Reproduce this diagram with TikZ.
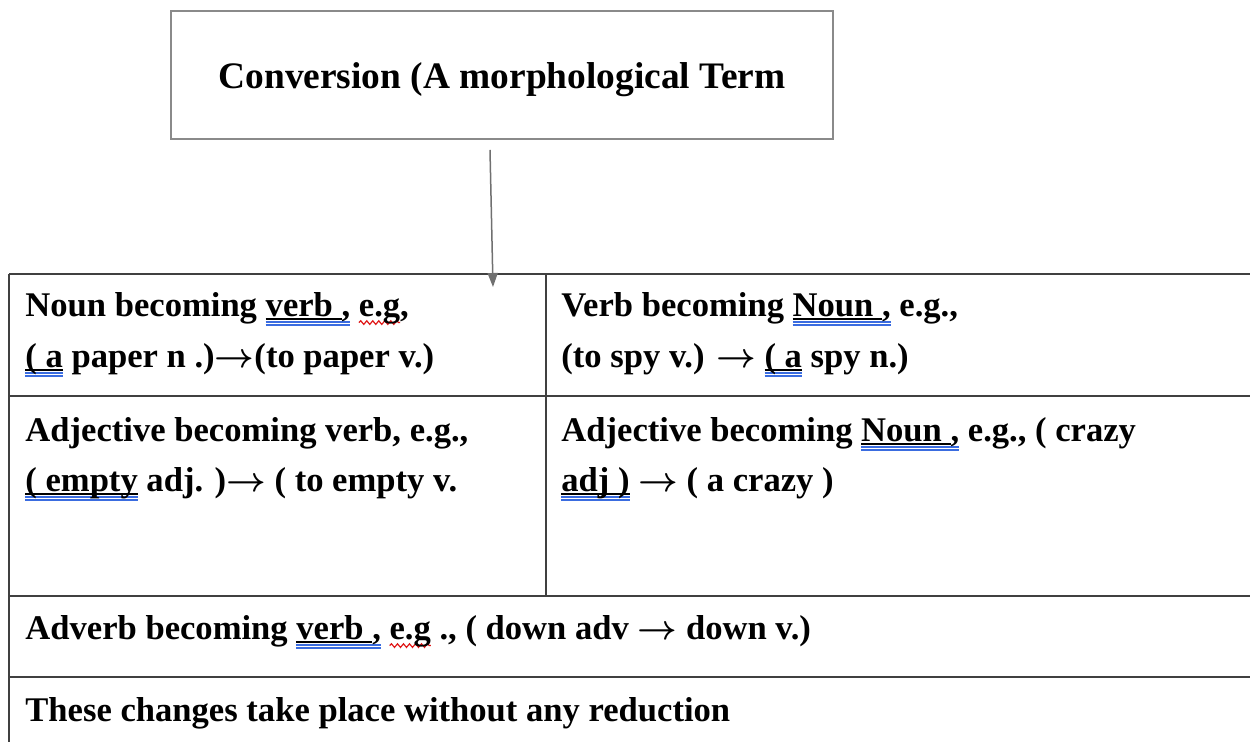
\documentclass[tikz,border=0pt]{standalone}
\usepackage{fontspec}
\setmainfont{Liberation Serif}
\usetikzlibrary{arrows.meta,decorations.pathmorphing}

\definecolor{gridline}{HTML}{404040}
\definecolor{boxline}{HTML}{8A8A8A}
\definecolor{arrowgray}{HTML}{707070}
\definecolor{gramblue}{HTML}{3A6CE0}
\definecolor{spellred}{HTML}{E01818}

% word underlined in black, with a blue double line under it and its tail
\newsavebox\ulpart
\newsavebox\ulfull
\newlength\ulw
\newcommand\gramul[2]{\sbox\ulpart{#1}\sbox\ulfull{#1#2}%
  \rlap{\rule[-1.3pt]{\wd\ulpart}{0.75pt}}%
  \rlap{\color{gramblue}\rule[-2.8pt]{\wd\ulfull}{0.6pt}}%
  \rlap{\color{gramblue}\rule[-4.3pt]{\wd\ulfull}{0.6pt}}%
  \usebox\ulfull}
% red wavy line under a word
\newcommand\spellul[1]{\sbox\ulpart{#1}\setlength\ulw{\wd\ulpart}%
  \rlap{\tikz[overlay,baseline=0pt]\draw[spellred,line width=0.6pt,decorate,
    decoration={snake,segment length=3pt,amplitude=0.9pt}] (0pt,-2.8pt) -- (\ulw,-2.8pt);}%
  \usebox\ulpart}
% arrow sign used in the examples
\newcommand\yields{\ensuremath{\rightarrow}}

\tikzset{
  cell/.style={anchor=base west, inner sep=0pt, font=\fontsize{17.3}{20}\selectfont\bfseries\boldmath},
  titletext/.style={anchor=base, inner sep=0pt, font=\fontsize{18.7}{22}\selectfont\bfseries},
  termbox/.style={draw=boxline, line width=0.75pt, minimum width=331pt, minimum height=64pt, inner sep=0pt},
  rule/.style={draw=gridline, line width=1pt},
  leadarrow/.style={draw=arrowgray, line width=0.75pt, -{Triangle[length=7pt,width=5pt]}}
}

\begin{document}
\begin{tikzpicture}[x=0.5pt,y=-0.5pt]
\useasboundingbox (0,0) rectangle (1250,742);
\clip (0,0) rectangle (1250,742);
\fill[white] (0,0) rectangle (1250,742);

% heading box
\node[termbox] (box) at (502,75) {};
\node[titletext] (title) at (502,89) {Conversion (A morphological Term};

% table rules
\draw[rule] (9,274) -- (1260,274);
\draw[rule] (9,274) -- (9,760);
\draw[rule] (546,274) -- (546,596);
\draw[rule] (9,396) -- (1260,396);
\draw[rule] (9,596) -- (1260,596);
\draw[rule] (9,677) -- (1260,677);

% arrow into the table
\coordinate (tail) at (490,150);
\coordinate (tip) at (493,287);
\draw[leadarrow] (tail) -- (tip);

% row 1
\node[cell] (nv1) at (25,317) {Noun becoming \gramul{verb }{,} \spellul{e.g},};
\node[cell] (nv2) at (25,368) {\gramul{( a}{} paper n .)\yields(to paper v.)};
\node[cell] (vn1) at (561,317) {Verb becoming \gramul{Noun }{,} e.g.,};
\node[cell] (vn2) at (561,368) {(to spy v.) \yields{} \gramul{( a}{} spy n.)};

% row 2
\node[cell] (av1) at (25,442) {Adjective becoming verb, e.g.,};
\node[cell] (av2) at (25,492) {\gramul{( empty}{} adj. )\yields{} ( to empty v.};
\node[cell] (an1) at (561,442) {Adjective becoming \gramul{Noun }{,} e.g., ( crazy};
\node[cell] (an2) at (561,492) {\gramul{adj )}{} \yields{} ( a crazy )};

% row 3
\node[cell] (adv) at (25,640) {Adverb becoming \gramul{verb }{,} \spellul{e.g} ., ( down adv \yields{} down v.)};

% row 4
\node[cell] (note) at (25,722) {These changes take place without any reduction};
\end{tikzpicture}
\end{document}
